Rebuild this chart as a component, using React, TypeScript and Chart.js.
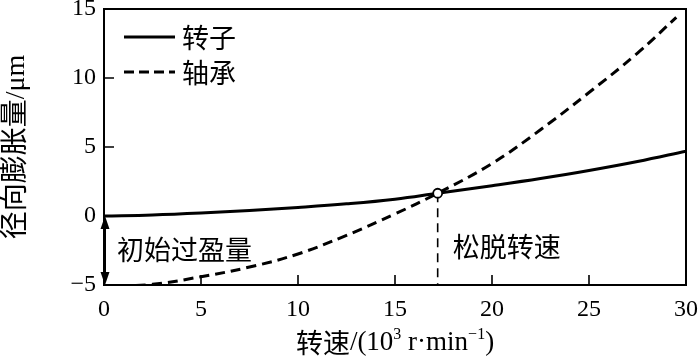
import React, { useEffect, useRef } from 'react';
import { Chart, registerables } from 'chart.js';

Chart.register(...registerables);

// ---- data ----
const rotorSpeeds = [0, 2.5, 5, 7.5, 10, 12.5, 15, 17.2, 20, 22.5, 25, 27.5, 30];
const rotorExpansion = [0, 0.08, 0.22, 0.4, 0.62, 0.88, 1.22, 1.65, 2.2, 2.72, 3.3, 3.95, 4.7];
const bearingSpeeds = [0, 2.5, 5, 7.5, 10, 12.5, 15, 17.2, 20, 22.5, 25, 27.5, 29.5];
const bearingExpansion = [-5.1, -4.95, -4.4, -3.7, -2.75, -1.4, 0.15, 1.65, 3.8, 6.25, 8.95, 11.8, 14.4];
const seriesNames = ['转子', '轴承'];
const xTickValues = [5, 10, 15, 20, 25];
const yTickValues = [0, 5, 10];
const looseSpeed = 17.2;
const looseExpansion = 1.65;
const interferenceRange = [0, -5];
const annotationTexts = ['初始过盈量', '松脱转速'];
const yTitle = '径向膨胀量/μm';
const xTitleParts = ['转速', '/(10', '3', ' r·min', '−1', ')'];

const SERIF = "'Liberation Serif', 'Times New Roman', serif";
const CJK = "'Noto Sans CJK SC', sans-serif";
const MIXED = "'Liberation Serif', 'Noto Sans CJK SC', 'DejaVu Serif', serif";

const overlay = {
  id: 'overlay',
  afterDatasetsDraw(chart: any) {
    const { ctx, chartArea: a, scales } = chart;
    const x = scales.x;
    const y = scales.y;
    ctx.save();
    ctx.strokeStyle = '#000';
    ctx.fillStyle = '#000';
    ctx.setLineDash([]);

    // frame
    ctx.lineWidth = 2;
    ctx.strokeRect(a.left, a.top, a.right - a.left, a.bottom - a.top);

    // inward ticks
    ctx.lineWidth = 1.6;
    ctx.beginPath();
    xTickValues.forEach((v) => {
      const px = x.getPixelForValue(v);
      ctx.moveTo(px, a.bottom);
      ctx.lineTo(px, a.bottom - 10);
    });
    yTickValues.forEach((v) => {
      const py = y.getPixelForValue(v);
      ctx.moveTo(a.left, py);
      ctx.lineTo(a.left + 10, py);
    });
    ctx.stroke();

    // vertical dashed line at loose speed
    const lx = x.getPixelForValue(looseSpeed);
    const ly = y.getPixelForValue(looseExpansion);
    ctx.setLineDash([9, 6]);
    ctx.lineWidth = 1.6;
    ctx.beginPath();
    ctx.moveTo(lx, ly);
    ctx.lineTo(lx, a.bottom);
    ctx.stroke();
    ctx.setLineDash([]);

    // circle at crossing
    ctx.beginPath();
    ctx.arc(lx, ly, 4.5, 0, Math.PI * 2);
    ctx.fillStyle = '#fff';
    ctx.fill();
    ctx.lineWidth = 1.8;
    ctx.stroke();
    ctx.fillStyle = '#000';

    // double arrow for initial interference
    const ax = x.getPixelForValue(0) + 1;
    const ay1 = y.getPixelForValue(interferenceRange[0]);
    const ay2 = y.getPixelForValue(interferenceRange[1]);
    const headL = 13;
    const headW = 4.5;
    ctx.lineWidth = 2;
    ctx.beginPath();
    ctx.moveTo(ax, ay1 + headL - 2);
    ctx.lineTo(ax, ay2 - headL + 2);
    ctx.stroke();
    ctx.beginPath();
    ctx.moveTo(ax, ay1);
    ctx.lineTo(ax - headW, ay1 + headL);
    ctx.lineTo(ax + headW, ay1 + headL);
    ctx.closePath();
    ctx.fill();
    ctx.beginPath();
    ctx.moveTo(ax, ay2);
    ctx.lineTo(ax - headW, ay2 - headL);
    ctx.lineTo(ax + headW, ay2 - headL);
    ctx.closePath();
    ctx.fill();

    // annotation texts
    ctx.font = `27px ${CJK}`;
    ctx.textAlign = 'left';
    ctx.textBaseline = 'middle';
    ctx.fillText(annotationTexts[0], a.left + 13, y.getPixelForValue(-2.45));
    ctx.fillText(annotationTexts[1], lx + 15, y.getPixelForValue(-2.2));

    // legend
    const lgX0 = a.left + 20;
    const lgX1 = a.left + 71;
    const lgY0 = a.top + 28;
    const lgY1 = a.top + 63;
    ctx.lineWidth = 3;
    ctx.beginPath();
    ctx.moveTo(lgX0, lgY0);
    ctx.lineTo(lgX1, lgY0);
    ctx.stroke();
    ctx.setLineDash([10, 5]);
    ctx.beginPath();
    ctx.moveTo(lgX0, lgY1);
    ctx.lineTo(lgX1, lgY1);
    ctx.stroke();
    ctx.setLineDash([]);
    ctx.fillText(seriesNames[0], lgX1 + 7, lgY0 + 1);
    ctx.fillText(seriesNames[1], lgX1 + 7, lgY1 + 1);

    // x title with superscripts
    const parts = [
      { t: xTitleParts[0], f: `27px ${CJK}`, dy: 0 },
      { t: xTitleParts[1], f: `27px ${SERIF}`, dy: 0 },
      { t: xTitleParts[2], f: `16px ${SERIF}`, dy: -8 },
      { t: xTitleParts[3], f: `27px ${SERIF}`, dy: 0 },
      { t: xTitleParts[4], f: `16px ${SERIF}`, dy: -8 },
      { t: xTitleParts[5], f: `27px ${SERIF}`, dy: 0 },
    ];
    let total = 0;
    parts.forEach((p) => {
      ctx.font = p.f;
      total += ctx.measureText(p.t).width;
    });
    let cx = (a.left + a.right) / 2 - total / 2;
    const ty = chart.height - 15;
    parts.forEach((p) => {
      ctx.font = p.f;
      ctx.fillText(p.t, cx, ty + p.dy);
      cx += ctx.measureText(p.t).width;
    });

    ctx.restore();
  },
};

export default function App() {
  const ref = useRef<HTMLCanvasElement | null>(null);

  useEffect(() => {
    document.body.style.margin = '0';
    if (!ref.current) return;
    const chart = new Chart(ref.current, {
      type: 'line',
      data: {
        datasets: [
          {
            label: seriesNames[0],
            data: rotorSpeeds.map((s, i) => ({ x: s, y: rotorExpansion[i] })),
            borderColor: '#000',
            borderWidth: 3,
            pointRadius: 0,
            tension: 0.4,
            fill: false,
          },
          {
            label: seriesNames[1],
            data: bearingSpeeds.map((s, i) => ({ x: s, y: bearingExpansion[i] })),
            borderColor: '#000',
            borderWidth: 3,
            borderDash: [10, 6],
            pointRadius: 0,
            tension: 0.4,
            fill: false,
          },
        ],
      },
      options: {
        responsive: false,
        animation: false,
        events: [],
        layout: { padding: { top: 9, right: 14, left: 0, bottom: 0 } },
        plugins: {
          legend: { display: false },
          tooltip: { enabled: false },
          title: { display: false },
        },
        scales: {
          x: {
            type: 'linear',
            min: 0,
            max: 30,
            grid: { display: false, drawTicks: false },
            border: { display: false },
            ticks: {
              stepSize: 5,
              padding: 10,
              color: '#000',
              font: { family: SERIF, size: 24 },
              maxRotation: 0,
            },
            afterFit(scale: any) {
              scale.height = 73;
              scale.paddingLeft = 0;
              scale.paddingRight = 0;
            },
          },
          y: {
            type: 'linear',
            min: -5,
            max: 15,
            grid: { display: false, drawTicks: false },
            border: { display: false },
            ticks: {
              stepSize: 5,
              padding: 8,
              color: '#000',
              font: { family: SERIF, size: 24 },
              callback: (v: any) => String(v).replace('-', '\u2212'),
            },
            title: {
              display: true,
              text: yTitle,
              color: '#000',
              font: { family: MIXED, size: 28 },
              padding: { top: 0, bottom: 0 },
            },
            afterFit(scale: any) {
              scale.width = 104;
              scale.paddingTop = 0;
              scale.paddingBottom = 0;
            },
          },
        },
      },
      plugins: [overlay],
    });
    return () => chart.destroy();
  }, []);

  return (
    <div style={{ width: 700, height: 358, background: '#fff' }}>
      <canvas ref={ref} width={700} height={358} style={{ display: 'block' }} />
    </div>
  );
}
